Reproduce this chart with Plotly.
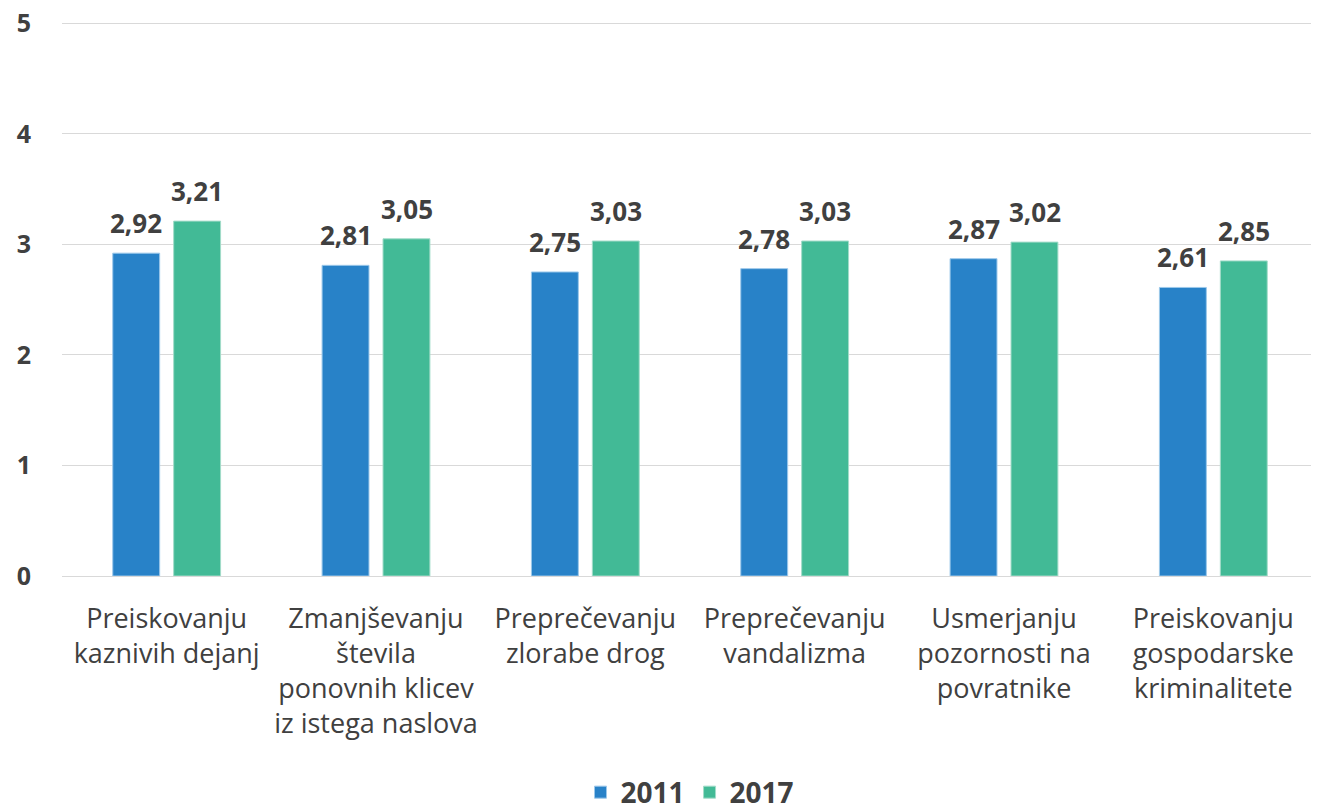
import plotly.graph_objects as go

categories = [
    "Preiskovanju<br>kaznivih dejanj",
    "Zmanjševanju<br>števila<br>ponovnih klicev<br>iz istega naslova",
    "Preprečevanju<br>zlorabe drog",
    "Preprečevanju<br>vandalizma",
    "Usmerjanju<br>pozornosti na<br>povratnike",
    "Preiskovanju<br>gospodarske<br>kriminalitete",
]
values_2011 = [2.92, 2.81, 2.75, 2.78, 2.87, 2.61]
values_2017 = [3.21, 3.05, 3.03, 3.03, 3.02, 2.85]

text_col = "#404040"
font_name = "Open Sans"
bold_font = dict(size=26, color=text_col, family=font_name, weight="bold")

fig = go.Figure()
fig.add_trace(go.Bar(x=categories, y=values_2011, name="2011",
                     marker=dict(color="#2882C8", line=dict(color="#9cc8ea", width=1))))
fig.add_trace(go.Bar(x=categories, y=values_2017, name="2017",
                     marker=dict(color="#42BA96", line=dict(color="#a3dcc9", width=1))))

# value labels, a bit above each bar
for vals, shift in [(values_2011, -30.5), (values_2017, 30.5)]:
    for cat, v in zip(categories, vals):
        fig.add_annotation(x=cat, y=v, text=f"{v:.2f}".replace(".", ","),
                           showarrow=False, xshift=shift, yshift=10, yanchor="bottom",
                           font=bold_font)

# page has an 8px body margin -> margins shifted by 8px
fig.update_layout(
    width=1311, height=810,
    margin=dict(l=54, r=1, t=13, b=238),
    paper_bgcolor="white", plot_bgcolor="white",
    barmode="group", bargap=0.418, bargroupgap=0.23,
    font=dict(family=font_name, color=text_col),
    legend=dict(orientation="h", x=0.5, xanchor="center", y=-0.39, yanchor="middle",
                font=dict(size=28, color=text_col, family=font_name, weight="bold"),
                itemwidth=30, tracegroupgap=0),
)
fig.update_yaxes(range=[0, 5.02], tickvals=[0, 1, 2, 3, 4, 5], showgrid=True,
                 gridcolor="#d9d9d9", gridwidth=1,
                 zeroline=True, zerolinecolor="#d9d9d9", zerolinewidth=1,
                 tickfont=dict(size=25, color=text_col, family=font_name, weight="bold"),
                 ticklabelstandoff=30, ticklabeloverflow="allow",
                 showline=False, automargin=False)
fig.update_xaxes(tickfont=dict(size=27, color=text_col, family=font_name),
                 ticklabelstandoff=24, showline=False, tickangle=0, automargin=False)

fig.write_html("out.html")
